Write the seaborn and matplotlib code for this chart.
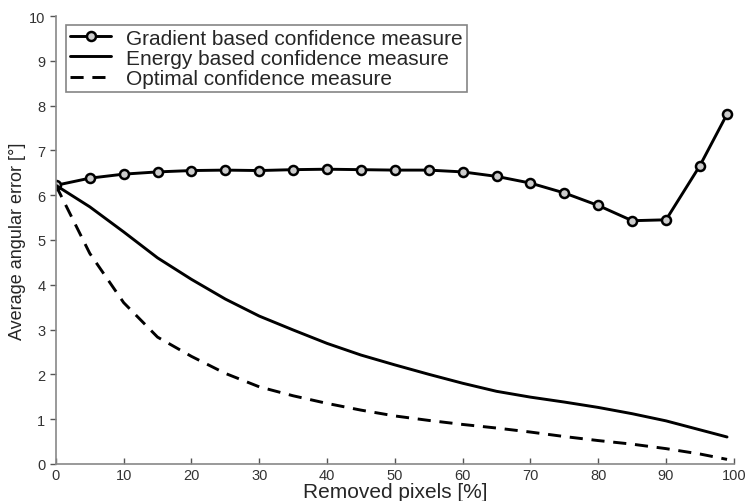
import matplotlib
matplotlib.use("Agg")
import matplotlib.pyplot as plt
import seaborn as sns

sns.set_style("ticks")
plt.rcParams["font.family"] = ["Liberation Sans", "DejaVu Sans"]

removed = [0, 5, 10, 15, 20, 25, 30, 35, 40, 45, 50, 55, 60, 65, 70, 75, 80, 85, 90, 95, 99]
gradient = [6.22, 6.38, 6.47, 6.52, 6.55, 6.56, 6.55, 6.57, 6.58, 6.57, 6.56,
            6.56, 6.52, 6.42, 6.27, 6.05, 5.77, 5.43, 5.45, 6.66, 7.81]
energy = [6.22, 5.74, 5.18, 4.6, 4.12, 3.68, 3.3, 2.99, 2.69, 2.43, 2.21,
          2.0, 1.8, 1.62, 1.49, 1.38, 1.26, 1.12, 0.96, 0.76, 0.6]
optimal = [6.22, 4.7, 3.6, 2.83, 2.4, 2.02, 1.72, 1.52, 1.35, 1.2, 1.07,
           0.97, 0.88, 0.8, 0.71, 0.61, 0.52, 0.44, 0.34, 0.22, 0.1]

fig = plt.figure(figsize=(7.45, 5.02), dpi=100)
ax = fig.add_axes([0.075, 0.074, 0.91, 0.892])

sns.lineplot(x=removed, y=gradient, ax=ax, color="black", lw=2.1,
             marker="o", markersize=6.5, markerfacecolor="#cccccc",
             markeredgecolor="black", markeredgewidth=1.8,
             label="Gradient based confidence measure")
sns.lineplot(x=removed, y=energy, ax=ax, color="black", lw=2.1,
             label="Energy based confidence measure")
sns.lineplot(x=removed, y=optimal, ax=ax, color="black", lw=2.1,
             linestyle=(0, (4.5, 3)), label="Optimal confidence measure")

ax.set_xlim(0, 100)
ax.set_ylim(0, 10)
ax.set_xticks(range(0, 101, 10))
ax.set_yticks(range(0, 11))
ax.set_xlabel("Removed pixels [%]", fontsize=15, labelpad=0)
ax.set_ylabel("Average angular error [°]", fontsize=13, labelpad=2)
ax.tick_params(axis="both", labelsize=10.5, colors="#555555",
               labelcolor="#333333", length=4, width=1)
ax.tick_params(axis="x", direction="in", pad=3)
sns.despine(ax=ax)
for s in ("left", "bottom"):
    ax.spines[s].set_color("#888888")
    ax.spines[s].set_linewidth(1.2)

leg = ax.legend(loc="upper left", fontsize=15, frameon=True, fancybox=False,
                edgecolor="#666666", handlelength=2.0, borderpad=0.2,
                labelspacing=0.05, handletextpad=0.7, borderaxespad=0.3,
                bbox_to_anchor=(0.005, 0.995))
leg.get_frame().set_linewidth(1.2)

fig.savefig("out.png", dpi=100)
